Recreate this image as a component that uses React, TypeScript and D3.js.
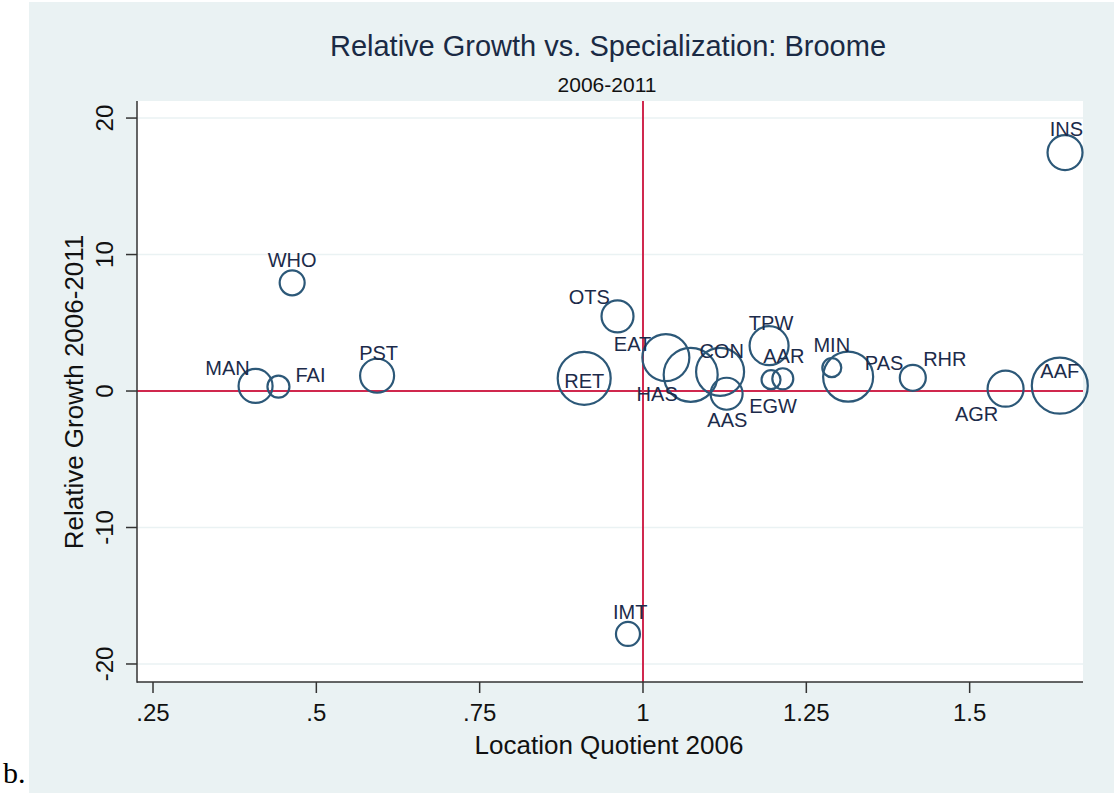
import React from "react";
import * as d3 from "d3";

// ---- data ----
const codes = ["WHO", "MAN", "FAI", "PST", "RET", "OTS", "EAT", "HAS", "CON", "AAS", "TPW", "EGW", "AAR", "MIN", "PAS", "RHR", "AGR", "AAF", "INS", "IMT"];
const locationQuotient = [0.463, 0.407, 0.442, 0.593, 0.91, 0.961, 1.035, 1.073, 1.118, 1.128, 1.193, 1.196, 1.214, 1.289, 1.314, 1.413, 1.555, 1.638, 1.646, 0.977];
const relativeGrowth = [7.93, 0.37, 0.32, 1.12, 0.93, 5.47, 2.45, 1.19, 1.41, -0.2, 3.32, 0.83, 0.9, 1.71, 1.05, 0.97, 0.17, 0.39, 17.47, -17.8];
const employment = [1560, 2890, 1210, 2890, 7020, 2560, 5520, 7290, 5760, 2560, 3800, 900, 1100, 900, 6250, 1690, 3240, 7840, 3060, 1440];

const xTicks = [0.25, 0.5, 0.75, 1, 1.25, 1.5];
const xTickLabels = [".25", ".5", ".75", "1", "1.25", "1.5"];
const yTicks = [-20, -10, 0, 10, 20];
const yTickLabels = ["-20", "-10", "0", "10", "20"];

// label placement (offset of label centre from marker centre), style only
const labelOffsets: Record<string, [number, number]> = {
  WHO: [0, -23], MAN: [-28, -18], FAI: [32, -12], PST: [1.5, -22.7], RET: [0, 2],
  OTS: [-28.3, -19.6], EAT: [-33.3, -13.5], HAS: [-33.5, 19.5], CON: [1.7, -21], AAS: [0.7, 26],
  TPW: [2, -22.7], EGW: [2, 26], AAR: [1, -23], MIN: [0, -22.7], PAS: [36, -14],
  RHR: [32, -18.7], AGR: [-29, 25], AAF: [0, -14.7], INS: [1.3, -23.7], IMT: [2.3, -22],
};

const W = 1114;
const H = 793;
const plot = { left: 137, right: 1083, top: 101, bottom: 682 };
const FONT = "'Liberation Sans', Arial, Helvetica, sans-serif";
const PANEL = "#eaf2f3";
const NAVY = "#2c5878";
const LABEL = "#1c2b4a";
const REF = "#d0284e";

export default function App() {
  const x = d3.scaleLinear().domain([0.2255, 1.6735]).range([plot.left, plot.right]);
  const y = d3.scaleLinear().domain([-21.32, 21.25]).range([plot.bottom, plot.top]);
  const r = d3.scaleSqrt().domain([0, d3.max(employment) as number]).range([0, 28]);

  const pts = codes.map((c, i) => ({
    code: c,
    cx: x(locationQuotient[i]),
    cy: y(relativeGrowth[i]),
    rr: r(employment[i]),
  }));

  return (
    <svg width={W} height={H} style={{ position: "absolute", left: 0, top: 0 }} fontFamily={FONT}>
      <rect x={0} y={0} width={W} height={H} fill="#ffffff" />
      <rect x={29} y={2} width={W - 29} height={H - 2} fill={PANEL} />
      <rect x={plot.left} y={plot.top} width={plot.right - plot.left} height={plot.bottom - plot.top} fill="#ffffff" />

      {/* grid lines */}
      {yTicks.map((t) => (
        <line key={"g" + t} x1={plot.left} x2={plot.right} y1={y(t)} y2={y(t)} stroke={PANEL} strokeWidth={1.6} />
      ))}

      {/* reference lines */}
      <line x1={x(1)} x2={x(1)} y1={plot.top} y2={plot.bottom} stroke={REF} strokeWidth={2} />
      <line x1={plot.left} x2={plot.right} y1={y(0)} y2={y(0)} stroke={REF} strokeWidth={2} />

      {/* axes */}
      <line x1={plot.left} x2={plot.left} y1={plot.top} y2={plot.bottom + 0.7} stroke="#333" strokeWidth={1.5} />
      <line x1={plot.left} x2={plot.right} y1={plot.bottom} y2={plot.bottom} stroke="#333" strokeWidth={1.5} />
      {xTicks.map((t, i) => (
        <g key={"xt" + t}>
          <line x1={x(t)} x2={x(t)} y1={plot.bottom} y2={plot.bottom + 11} stroke="#333" strokeWidth={1.5} />
          <text x={x(t)} y={720.5} textAnchor="middle" fontSize={24} fill="#111">
            {xTickLabels[i]}
          </text>
        </g>
      ))}
      {yTicks.map((t, i) => (
        <g key={"yt" + t}>
          <line x1={plot.left - 11} x2={plot.left} y1={y(t)} y2={y(t)} stroke="#333" strokeWidth={1.5} />
          <text transform={`translate(113,${y(t)}) rotate(-90)`} textAnchor="middle" fontSize={24} fill="#111">
            {yTickLabels[i]}
          </text>
        </g>
      ))}

      {/* bubbles */}
      {pts.map((p) => (
        <circle key={"c" + p.code} cx={p.cx} cy={p.cy} r={p.rr} fill="none" stroke={NAVY} strokeWidth={2.2} />
      ))}
      {pts.map((p) => {
        const [dx, dy] = labelOffsets[p.code];
        return (
          <text key={"l" + p.code} x={p.cx + dx} y={p.cy + dy + 7.2} textAnchor="middle" fontSize={20} fill={LABEL}>
            {p.code}
          </text>
        );
      })}

      {/* titles */}
      <text x={608} y={56} textAnchor="middle" fontSize={29} fill="#1a2a44">
        Relative Growth vs. Specialization: Broome
      </text>
      <text x={607} y={92} textAnchor="middle" fontSize={21} fill="#111">
        2006-2011
      </text>
      <text x={609} y={754} textAnchor="middle" fontSize={26} fill="#111">
        Location Quotient 2006
      </text>
      <text transform={`translate(83,392) rotate(-90)`} textAnchor="middle" fontSize={26} fill="#111">
        Relative Growth 2006-2011
      </text>

      <text x={3} y={783} fontFamily="'Liberation Serif', 'Times New Roman', serif" fontSize={30} fill="#000">
        b.
      </text>
    </svg>
  );
}
